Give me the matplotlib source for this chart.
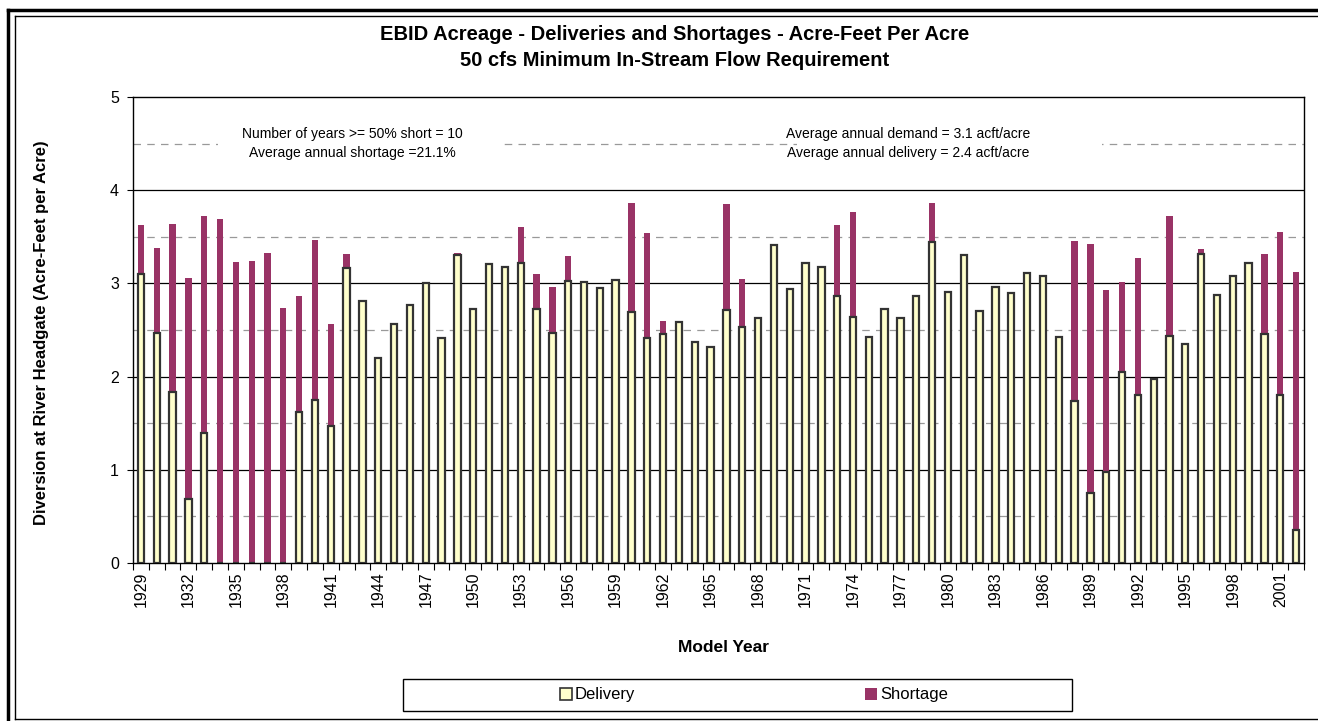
import numpy as np
import matplotlib
matplotlib.use('Agg')
import matplotlib.pyplot as plt
from matplotlib.patches import Rectangle, Patch
from matplotlib.lines import Line2D

plt.rcParams['font.family'] = ['Liberation Sans', 'DejaVu Sans']

# data (acre-feet per acre)
years = list(range(1929, 2003))
delivery = [3.10, 2.47, 1.83, 0.69, 1.39, 0.00, 0.00, 0.00, 0.00, 0.00,
            1.62, 1.75, 1.47, 3.17, 2.81, 2.20, 2.56, 2.77, 3.00, 2.41,
            3.31, 2.72, 3.21, 3.18, 3.22, 2.73, 2.47, 3.03, 3.01, 2.95,
            3.04, 2.69, 2.41, 2.46, 2.59, 2.37, 2.32, 2.71, 2.53, 2.63,
            3.41, 2.94, 3.22, 3.18, 2.87, 2.64, 2.42, 2.72, 2.63, 2.87,
            3.44, 2.91, 3.30, 2.70, 2.96, 2.90, 3.11, 3.08, 2.43, 1.74,
            0.75, 0.98, 2.05, 1.80, 1.97, 2.44, 2.35, 3.32, 2.88, 3.08,
            3.22, 2.46, 1.80, 0.35]
shortage = [0.53, 0.91, 1.81, 2.37, 2.33, 3.69, 3.23, 3.24, 3.33, 2.74,
            1.25, 1.72, 1.09, 0.15, 0.00, 0.00, 0.00, 0.00, 0.00, 0.00,
            0.02, 0.00, 0.00, 0.00, 0.39, 0.37, 0.49, 0.26, 0.00, 0.00,
            0.00, 1.17, 1.13, 0.14, 0.00, 0.00, 0.00, 1.14, 0.52, 0.00,
            0.00, 0.00, 0.00, 0.00, 0.76, 1.13, 0.00, 0.00, 0.00, 0.00,
            0.42, 0.00, 0.00, 0.00, 0.00, 0.00, 0.00, 0.00, 0.00, 1.71,
            2.67, 1.95, 0.96, 1.47, 0.00, 1.28, 0.00, 0.05, 0.00, 0.00,
            0.00, 0.86, 1.75, 2.77]

note_left = 'Number of years >= 50% short = 10\nAverage annual shortage =21.1%'
note_right = 'Average annual demand = 3.1 acft/acre\nAverage annual delivery = 2.4 acft/acre'

W, H = 1318, 721
fig = plt.figure(figsize=(W / 100, H / 100), dpi=100)
fig.patch.set_facecolor('white')

# plot area in pixels: x 133..1304, y 97..563
X0, X1, Y0, Y1 = 133, 1304, 97, 563
ax = fig.add_axes([X0 / W, 1 - Y1 / H, (X1 - X0) / W, (Y1 - Y0) / H])

n = len(years)
x = np.arange(n)
bw = 0.40
ax.bar(x, shortage, bw, bottom=delivery, color='#993366', edgecolor='none', zorder=3)
ax.bar(x, delivery, bw, color='#FFFFCC', edgecolor='#333333', linewidth=1.6, zorder=4)

ax.set_xlim(-0.5, n - 0.5)
ax.set_ylim(0, 5)

# grid: solid at whole numbers, dashed at halves
for v in [1, 2, 3, 4]:
    ax.axhline(v, color='black', linewidth=0.9, zorder=1)
for v in [0.5, 1.5, 2.5, 3.5, 4.5]:
    ax.axhline(v, color='#999999', linewidth=0.9, dashes=(6, 5), zorder=1)

ax.set_yticks([0, 1, 2, 3, 4, 5])
ax.tick_params(axis='y', labelsize=11.5, length=4, width=0.8, direction='out', pad=6)

lab_idx = x[::3]
ax.set_xticks(lab_idx)
ax.set_xticklabels([str(years[i]) for i in lab_idx], rotation=90, fontsize=11.5)
ax.tick_params(axis='x', length=0, pad=6)
ax.set_xticks(np.arange(-0.5, n), minor=True)
ax.tick_params(axis='x', which='minor', length=5, width=0.8, direction='out')

for s in ax.spines.values():
    s.set_linewidth(1.0)
    s.set_color('black')

# white text boxes hiding the dashed line behind the notes
def px2x(px):
    return (px - X0) / ((X1 - X0) / n) - 0.5

def py2y(py):
    return (Y1 - py) / ((Y1 - Y0) / 5)

for a, b in [(218, 500), (797, 1102)]:
    ax.add_patch(Rectangle((px2x(a), py2y(165)), px2x(b) - px2x(a), py2y(122) - py2y(165),
                           facecolor='white', edgecolor='none', zorder=2))

ax.text(px2x(352), py2y(143.5), note_left, ha='center', va='center',
        fontsize=10, linespacing=1.4, zorder=5)
ax.text(px2x(908), py2y(143.5), note_right, ha='center', va='center',
        fontsize=10, linespacing=1.4, zorder=5)

# titles
fig.text(675 / W, 1 - 35 / H, 'EBID Acreage - Deliveries and Shortages - Acre-Feet Per Acre',
         ha='center', va='center', fontsize=14.5, fontweight='bold')
fig.text(675 / W, 1 - 60 / H, '50 cfs Minimum In-Stream Flow Requirement',
         ha='center', va='center', fontsize=14.5, fontweight='bold')
fig.text(42 / W, 1 - 333 / H, 'Diversion at River Headgate (Acre-Feet per Acre)',
         rotation=90, ha='center', va='center', fontsize=12, fontweight='bold')
fig.text(724 / W, 1 - 647 / H, 'Model Year', ha='center', va='center',
         fontsize=12.5, fontweight='bold')

# legend with a wide frame drawn separately
fig.patches.append(Rectangle((403 / W, 1 - 711 / H), (1072 - 403) / W, 32 / H,
                             transform=fig.transFigure, facecolor='white',
                             edgecolor='black', linewidth=1.0))
handles = [Patch(facecolor='#FFFFCC', edgecolor='#333333', linewidth=1.2),
           Patch(facecolor='#993366', edgecolor='none')]
fig.legend(handles, ['Delivery', 'Shortage'], loc='center',
           bbox_to_anchor=(754 / W, 1 - 695 / H), ncol=2, frameon=False,
           fontsize=12, handlelength=0.7, handleheight=0.7, handletextpad=0.2,
           columnspacing=13.8)

# chart-area border lines
def fline(x0, y0, x1, y1, lw):
    fig.lines.append(Line2D([x0 / W, x1 / W], [1 - y0 / H, 1 - y1 / H],
                            transform=fig.transFigure, color='black', linewidth=lw))

fline(8, 10, W, 10, 2.5)
fline(8, 10, 8, H, 2.5)
fline(15, 16, W, 16, 1.0)
fline(15, 16, 15, 719, 1.0)
fline(15, 719, W, 719, 1.0)

fig.savefig('out.png', dpi=100)
